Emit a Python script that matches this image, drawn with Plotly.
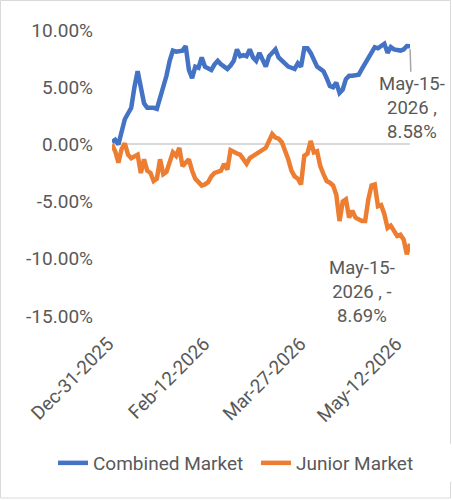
import pandas as pd
import plotly.graph_objects as go

# Trading days (JSE calendar: weekdays less public holidays)
holidays = ["2026-01-01", "2026-02-18", "2026-04-03", "2026-04-06"]
dates = [d.strftime("%b-%d-%Y") for d in pd.bdate_range("2025-12-31", "2026-05-15")
         if d.strftime("%Y-%m-%d") not in holidays]

tick_labels = ["Dec-31-2025", "Feb-12-2026", "Mar-27-2026", "May-12-2026"]

combined = [0.2, 0.4, 0.0, 1.3, 2.2, 2.7, 3.2, 5.0, 6.4, 5.0,
            3.6, 3.2, 3.2, 3.2, 3.1, 4.0, 5.2, 6.0, 7.3, 8.2,
            8.1, 8.2, 8.2, 8.6, 6.5, 5.8, 6.8, 6.7, 7.6, 6.8,
            6.7, 6.5, 7.0, 7.3, 7.0, 6.8, 6.6, 6.9, 7.3, 8.3,
            7.7, 7.8, 7.7, 8.3, 7.6, 7.3, 8.0, 7.4, 6.8, 7.7,
            8.0, 8.3, 7.6, 7.3, 7.0, 6.8, 6.7, 6.6, 7.1, 6.8,
            8.4, 8.4, 8.0, 7.5, 6.8, 6.6, 6.4, 5.8, 5.1, 5.0,
            5.4, 4.5, 4.8, 5.7, 6.0, 6.0, 6.1, 6.1, 6.6, 7.1,
            7.5, 7.9, 8.5, 8.4, 8.6, 8.8, 8.0, 8.5, 8.3, 8.2,
            8.2, 8.3, 8.6, 8.58]

junior = [0.0, -0.6, -1.6, -0.4, 0.1, -0.9, -1.2, -1.1, -0.9, -2.5,
          -1.3, -2.3, -2.5, -3.2, -3.0, -1.3, -2.6, -2.4, -1.5, -0.7,
          -1.0, -0.3, -1.9, -1.6, -1.3, -2.3, -3.0, -3.3, -3.6, -3.5,
          -3.3, -2.8, -2.5, -2.4, -2.3, -1.7, -2.2, -0.5, -0.7, -0.8,
          -0.9, -1.3, -1.7, -1.2, -1.0, -0.8, -0.6, -0.4, -0.3, 0.3,
          0.9, 0.6, 0.5, 0.2, -0.5, -1.3, -2.3, -2.8, -3.0, -3.5,
          -1.0, -0.8, 0.3, -0.7, -0.6, -1.9, -2.6, -3.2, -3.35, -3.6,
          -4.4, -6.7, -5.0, -4.8, -6.4, -5.8, -6.4, -6.6, -6.7, -6.7,
          -4.8, -3.6, -3.5, -5.4, -5.3, -6.1, -7.3, -7.1, -7.6, -8.0,
          -7.9, -8.3, -9.6, -8.69]

y_ticks = [10, 5, 0, -5, -10, -15]

W, H = 452, 500
ML, MR, MT, MB = 112, 42, 30, 184
pw, ph = W - ML - MR, H - MT - MB

FONT = "Roboto"
TXT = "#595959"
FS = 19

fig = go.Figure()
fig.add_trace(go.Scatter(x=dates, y=combined, mode="lines", name="Combined Market",
                         line=dict(color="#4472C4", width=4.5)))
fig.add_trace(go.Scatter(x=dates, y=junior, mode="lines", name="Junior Market",
                         line=dict(color="#ED7D31", width=4.5)))

fig.add_annotation(x=dates[-1], y=combined[-1],
                   text="May-15-<br>2026 ,<br>%.2f%%" % combined[-1],
                   showarrow=True, arrowhead=0, arrowwidth=1.5, arrowcolor="#A6A6A6",
                   ax=2, ay=62, standoff=3,
                   font=dict(family=FONT, size=18.5, color=TXT))
fig.add_annotation(x=dates[-1], y=junior[-1],
                   text="May-15-<br>2026 , -<br>%.2f%%" % abs(junior[-1]),
                   showarrow=False, xshift=-48, yshift=-48,
                   font=dict(family=FONT, size=18.5, color=TXT))

# outer chart border
fig.add_shape(type="rect", xref="paper", yref="paper",
              x0=(0.5 - ML) / pw, x1=(W - 1.5 - ML) / pw,
              y0=(MT + ph - (H - 2)) / ph, y1=(MT + ph - 0.5) / ph,
              line=dict(color="#D9D9D9", width=1), fillcolor="rgba(0,0,0,0)")

fig.update_layout(
    width=W, height=H,
    margin=dict(l=ML, r=MR, t=MT, b=MB, autoexpand=False),
    paper_bgcolor="white", plot_bgcolor="white",
    font=dict(family=FONT, size=FS, color=TXT),
    showlegend=True,
    legend=dict(orientation="h", x=(53 - ML) / pw, xanchor="left",
                y=(MT + ph - 463) / ph, yanchor="middle",
                font=dict(family=FONT, size=FS, color=TXT),
                itemwidth=30, tracegroupgap=0, entrywidth=158),
    xaxis=dict(type="category", range=[0, len(dates) - 1], automargin=False,
               tickmode="array", tickvals=tick_labels, ticktext=tick_labels,
               tickangle=-45, showgrid=False, showline=False, zeroline=False,
               ticks="", ticklabelstandoff=12, ticklabelshift=-4,
               tickfont=dict(family=FONT, size=FS, color=TXT)),
    yaxis=dict(range=[-15, 10], tickvals=y_ticks, automargin=False,
               ticktext=["%.2f%%" % v for v in y_ticks],
               showgrid=False, showline=False, ticks="",
               zeroline=True, zerolinecolor="#D9D9D9", zerolinewidth=1.5,
               ticklabelstandoff=18,
               tickfont=dict(family=FONT, size=FS, color=TXT)),
)

fig.write_html("out.html", config={"displayModeBar": False},
               post_script="document.body.style.margin='0';document.body.style.overflow='hidden';")
